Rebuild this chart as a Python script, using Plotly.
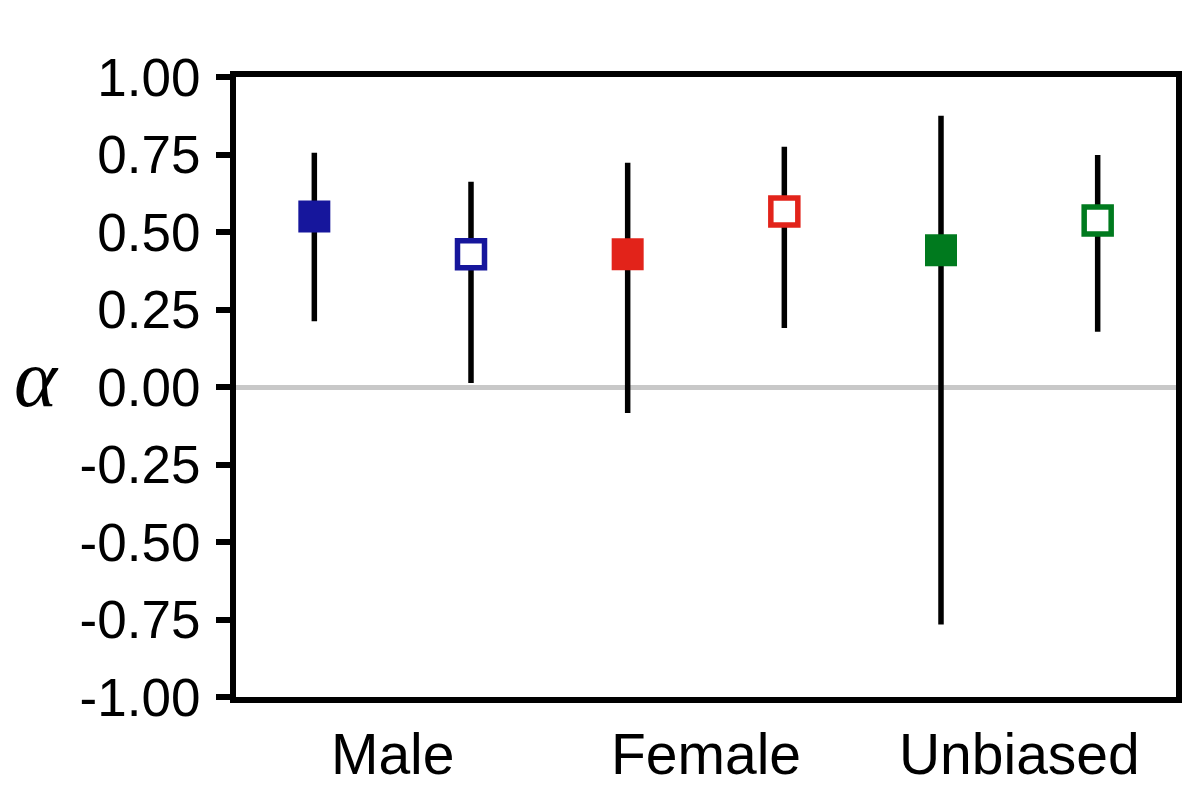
import plotly.graph_objects as go

# posterior estimates of alpha with credible intervals
groups = ['Male', 'Female', 'Unbiased']
group_pos = [0.5, 2.5, 4.5]
x_pos = [0, 1, 2, 3, 4, 5]
alpha_vals = [0.550, 0.428, 0.428, 0.566, 0.441, 0.537]
lower = [0.212, 0.013, -0.084, 0.190, -0.766, 0.178]
upper = [0.756, 0.662, 0.723, 0.775, 0.875, 0.748]
colors = ['#16169c', '#16169c', '#e2231a', '#e2231a', '#007a1e', '#007a1e']
filled = [True, False, True, False, True, False]
y_ticks = [1.0, 0.75, 0.5, 0.25, 0.0, -0.25, -0.5, -0.75, -1.0]

fig = go.Figure()
for i in range(len(x_pos)):
    if filled[i]:
        marker = dict(symbol='square', size=32, color=colors[i], opacity=1,
                      line=dict(width=0))
    else:
        marker = dict(symbol='square', size=27, color='white', opacity=1,
                      line=dict(color=colors[i], width=5.5))
    fig.add_trace(go.Scatter(
        x=[x_pos[i]], y=[alpha_vals[i]], mode='markers', marker=marker,
        error_y=dict(type='data', symmetric=False,
                     array=[upper[i] - alpha_vals[i]],
                     arrayminus=[alpha_vals[i] - lower[i]],
                     color='black', thickness=5.5, width=0),
        showlegend=False))

fig.add_annotation(text='<i>α</i>', x=0, y=0.0, xref='paper', yref='y',
                   xanchor='center', yanchor='middle', showarrow=False,
                   xshift=-200, yshift=9,
                   font=dict(family='Liberation Serif', size=82, color='black'))

fig.update_layout(
    width=1192, height=804,
    margin=dict(l=228, r=24, t=69, b=115),
    plot_bgcolor='white', paper_bgcolor='white',
    font=dict(family='Liberation Sans', color='black'))
fig.update_xaxes(range=[-0.5, 5.5], tickvals=group_pos, ticktext=groups,
                 showline=True, linecolor='black', linewidth=6, mirror=True,
                 ticks='', showgrid=False, zeroline=False,
                 tickfont=dict(size=57), ticklabelstandoff=3)
fig.update_yaxes(range=[-1, 1], tickvals=y_ticks,
                 ticktext=['%.2f' % v for v in y_ticks],
                 showline=True, linecolor='black', linewidth=6, mirror=True,
                 ticks='outside', ticklen=14, tickwidth=6, tickcolor='black',
                 showgrid=False, zeroline=True, zerolinecolor='#c8c8c8',
                 zerolinewidth=5, tickfont=dict(size=53), ticklabelstandoff=5)

fig.write_html("out.html")
